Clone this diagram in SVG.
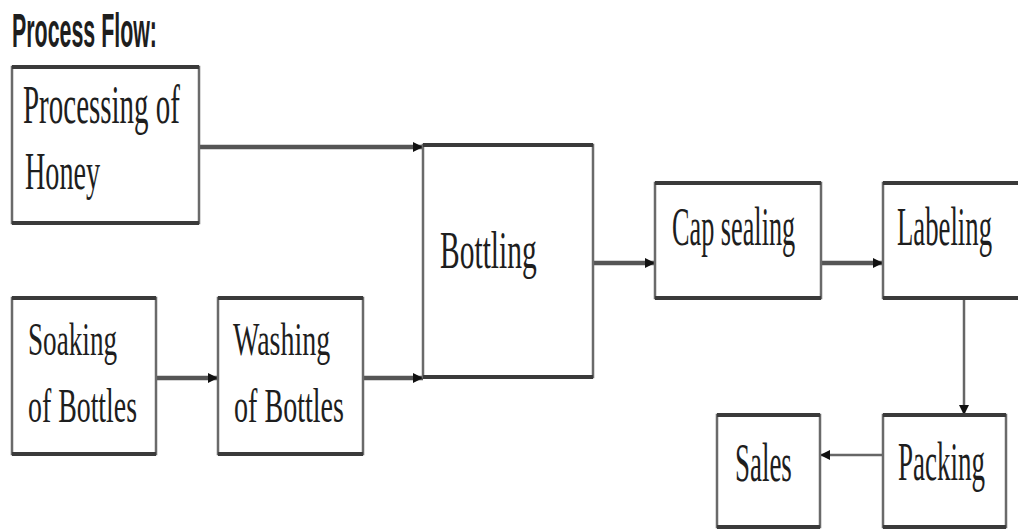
<svg xmlns="http://www.w3.org/2000/svg" width="1018" height="531" viewBox="0 0 1018 531">
<style>
.bx{fill:#fff;stroke:#6a6a6a;stroke-width:2.5}
.tb{stroke:#3a3a3a;stroke-width:4}
.t{font-family:"Liberation Serif","Times New Roman",serif;fill:#1e1e1e}
.c{fill:none;stroke:#555;stroke-width:4.5}
.c2{fill:none;stroke:#666;stroke-width:2.5}
</style>
<defs>
<marker id="ah" viewBox="0 0 10 10" refX="10" refY="5" markerWidth="10" markerHeight="14" markerUnits="userSpaceOnUse" orient="auto">
<path d="M0,0 L10,5 L0,10 z" fill="#111"/>
</marker>
</defs>
<rect width="1018" height="531" fill="#fff"/>
<text transform="translate(12,47) scale(0.446,1)" font-family="Liberation Sans, Arial, sans-serif" font-weight="bold" font-size="48" fill="#1e1e1e" textLength="325" lengthAdjust="spacingAndGlyphs">Process Flow:</text>

<g id="connectors">
<line class="c" x1="199" y1="147" x2="423" y2="147" marker-end="url(#ah)" stroke="#7a7a7a"/>
<line class="c" x1="156" y1="378" x2="218" y2="378" marker-end="url(#ah)"/>
<line class="c" x1="363" y1="378" x2="423" y2="378" marker-end="url(#ah)"/>
<line class="c" x1="593" y1="263" x2="655" y2="263" marker-end="url(#ah)"/>
<line class="c" x1="821" y1="263" x2="883" y2="263" marker-end="url(#ah)"/>
<line class="c2" x1="964" y1="298" x2="964" y2="415" marker-end="url(#ah)" stroke-width="3.5"/>
<line class="c2" x1="883" y1="455" x2="820" y2="455" marker-end="url(#ah)"/>
</g>

<g id="node-honey">
<rect class="bx" x="12" y="67" width="187" height="156"/>
<line class="tb" x1="12" y1="67" x2="199" y2="67"/>
<line class="tb" x1="12" y1="223" x2="199" y2="223"/>
<text class="t" transform="translate(23,123) scale(0.547,1)" font-size="54" textLength="287" lengthAdjust="spacingAndGlyphs">Processing of</text>
<text class="t" transform="translate(25,189) scale(0.541,1)" font-size="52" textLength="139" lengthAdjust="spacingAndGlyphs">Honey</text>
</g>

<g id="node-soaking">
<rect class="bx" x="12" y="298" width="144" height="156"/>
<line class="tb" x1="12" y1="298" x2="156" y2="298"/>
<line class="tb" x1="12" y1="454" x2="156" y2="454"/>
<text class="t" transform="translate(28,355) scale(0.59,1)" font-size="46" textLength="151" lengthAdjust="spacingAndGlyphs">Soaking</text>
<text class="t" transform="translate(28,422) scale(0.58,1)" font-size="48" textLength="188" lengthAdjust="spacingAndGlyphs">of Bottles</text>
</g>

<g id="node-washing">
<rect class="bx" x="218" y="298" width="145" height="156"/>
<line class="tb" x1="218" y1="298" x2="363" y2="298"/>
<line class="tb" x1="218" y1="454" x2="363" y2="454"/>
<text class="t" transform="translate(233,355) scale(0.593,1)" font-size="46" textLength="164" lengthAdjust="spacingAndGlyphs">Washing</text>
<text class="t" transform="translate(234,422) scale(0.585,1)" font-size="48" textLength="188" lengthAdjust="spacingAndGlyphs">of Bottles</text>
</g>

<g id="node-bottling">
<rect class="bx" x="423" y="145" width="170" height="232"/>
<line class="tb" x1="423" y1="145" x2="593" y2="145"/>
<line class="tb" x1="423" y1="377" x2="593" y2="377"/>
<text class="t" transform="translate(440,268) scale(0.569,1)" font-size="52" textLength="170" lengthAdjust="spacingAndGlyphs">Bottling</text>
</g>

<g id="node-cap">
<rect class="bx" x="655" y="183" width="166" height="115"/>
<line class="tb" x1="655" y1="183" x2="821" y2="183"/>
<line class="tb" x1="655" y1="298" x2="821" y2="298"/>
<text class="t" transform="translate(672,245) scale(0.485,1)" font-size="54" textLength="254" lengthAdjust="spacingAndGlyphs">Cap sealing</text>
</g>

<g id="node-labeling">
<rect class="bx" x="883" y="183" width="140" height="115"/>
<line class="tb" x1="883" y1="183" x2="1020" y2="183"/>
<line class="tb" x1="883" y1="298" x2="1020" y2="298"/>
<text class="t" transform="translate(897,245) scale(0.495,1)" font-size="54" textLength="192" lengthAdjust="spacingAndGlyphs">Labeling</text>
</g>

<g id="node-packing">
<rect class="bx" x="883" y="415" width="123" height="112"/>
<line class="tb" x1="883" y1="415" x2="1006" y2="415"/>
<line class="tb" x1="883" y1="527" x2="1006" y2="527"/>
<text class="t" transform="translate(898,480) scale(0.5,1)" font-size="54" textLength="174" lengthAdjust="spacingAndGlyphs">Packing</text>
</g>

<g id="node-sales">
<rect class="bx" x="717" y="415" width="103" height="112"/>
<line class="tb" x1="717" y1="415" x2="820" y2="415"/>
<line class="tb" x1="717" y1="527" x2="820" y2="527"/>
<text class="t" transform="translate(735,481) scale(0.49,1)" font-size="55" textLength="116" lengthAdjust="spacingAndGlyphs">Sales</text>
</g>
</svg>
